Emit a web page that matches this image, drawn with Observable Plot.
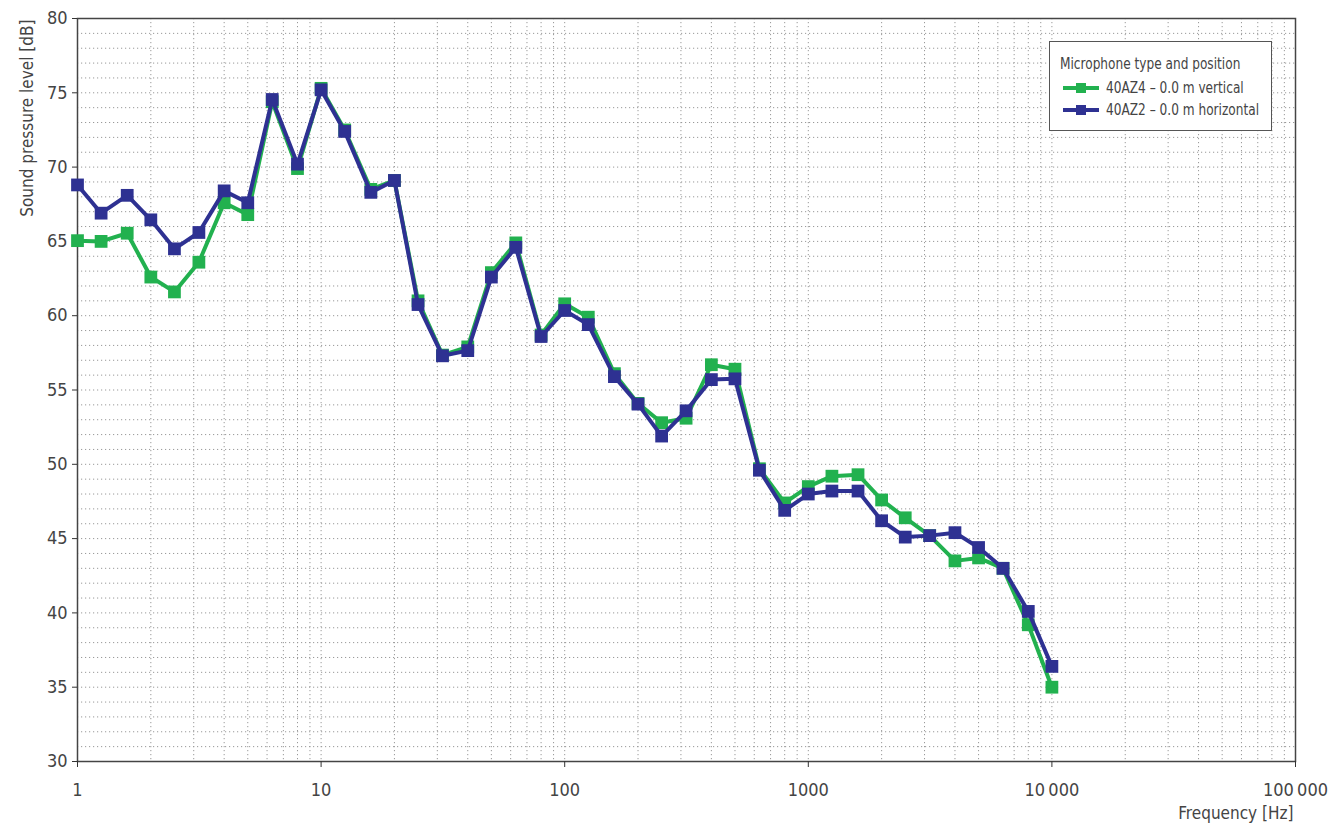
<!DOCTYPE html>
<html>
<head>
<meta charset="utf-8">
<script src="https://cdn.jsdelivr.net/npm/d3@7"></script>
<script src="https://cdn.jsdelivr.net/npm/@observablehq/plot@0.6"></script>
<style>
  html, body { margin: 0; padding: 0; background: #fff; }
  #wrap { position: relative; width: 1338px; height: 826px; }
  #legend {
    position: absolute; left: 1049px; top: 41px; width: 221px; height: 88px;
    border: 1.5px solid #555; background: #fff; box-sizing: content-box;
    font-family: "DejaVu Sans Condensed", sans-serif;
    font-size: 15px; color: #444; white-space: nowrap;
  }
  #legend .title { position: absolute; left: 10px; top: 13px; transform: scaleX(0.9); transform-origin: left center; }
  #legend .row { position: absolute; left: 12px; height: 20px; display: flex; align-items: center; }
  #legend .row span { display: inline-block; transform: scaleX(0.9); transform-origin: left center; }
  #legend svg { margin-right: 6px; }
</style>
</head>
<body>
<div id="wrap"></div>
<script>
const frequencies = [1, 1.25, 1.6, 2, 2.5, 3.15, 4, 5, 6.3, 8, 10, 12.5, 16, 20, 25, 31.5, 40, 50, 63, 80, 100, 125, 160, 200, 250, 315, 400, 500, 630, 800, 1000, 1250, 1600, 2000, 2500, 3150, 4000, 5000, 6300, 8000, 10000];
const vertical40AZ4 = [65.05, 65.0, 65.55, 62.6, 61.6, 63.6, 67.6, 66.8, 74.4, 69.9, 75.3, 72.5, 68.5, 69.1, 61.0, 57.35, 57.9, 62.9, 64.9, 58.7, 60.8, 59.9, 56.1, 54.1, 52.8, 53.1, 56.7, 56.4, 49.7, 47.4, 48.5, 49.2, 49.3, 47.6, 46.4, 45.2, 43.5, 43.7, 43.0, 39.2, 35.0];
const horizontal40AZ2 = [68.8, 66.9, 68.1, 66.45, 64.5, 65.6, 68.4, 67.6, 74.55, 70.2, 75.2, 72.4, 68.3, 69.1, 60.75, 57.3, 57.65, 62.6, 64.6, 58.6, 60.35, 59.4, 55.9, 54.05, 51.9, 53.6, 55.7, 55.75, 49.6, 46.9, 48.0, 48.2, 48.2, 46.2, 45.1, 45.2, 45.4, 44.4, 43.0, 40.1, 36.4];
const seriesNames = ["40AZ4 – 0.0 m vertical", "40AZ2 – 0.0 m horizontal"];
const seriesColors = ["#22b14f", "#2e3192"];
const xTicks = [1, 10, 100, 1000, 10000, 100000];
const yTicks = [30, 35, 40, 45, 50, 55, 60, 65, 70, 75, 80];

const fmtX = d => d >= 10000 ? d3.format(",")(d).replace(/,/g, "\u2009") : String(d);
const green = frequencies.map((f, i) => ({f, v: vertical40AZ4[i]}));
const blue = frequencies.map((f, i) => ({f, v: horizontal40AZ2[i]}));
const gridXVals = d3.scaleLog().domain([1, 100000]).ticks();
const gridYVals = d3.range(30, 81);
const font = `"DejaVu Sans Condensed", sans-serif`;

const chart = Plot.plot({
  width: 1338, height: 826,
  marginLeft: 77, marginRight: 43, marginTop: 18, marginBottom: 65,
  style: {fontFamily: font, fontSize: "17px", color: "#444", background: "#fff"},
  x: {type: "log", domain: [1, 100000]},
  y: {domain: [30, 80]},
  marks: [
    Plot.gridX(gridXVals, {stroke: "#999", strokeOpacity: 1, strokeDasharray: "1.2,2.8"}),
    Plot.gridY(gridYVals, {stroke: "#999", strokeOpacity: 1, strokeDasharray: "1.2,2.8"}),
    Plot.frame({stroke: "#444", strokeWidth: 1.5}),
    Plot.axisX(xTicks, {tickFormat: fmtX, tickSize: 6, tickPadding: 16, stroke: "#333", fill: "#444", fontSize: 18, label: null}),
    Plot.axisY(yTicks, {tickSize: 5, tickPadding: 5, stroke: "#333", fill: "#444", fontSize: 18, label: null}),
    Plot.text(["Sound pressure level [dB]"], {frameAnchor: "top-left", dx: -57, dy: 1, rotate: -90, textAnchor: "end", fill: "#444", fontSize: 17}),
    Plot.text(["Frequency [Hz]"], {frameAnchor: "bottom-right", dx: -2, dy: 57, textAnchor: "end", fill: "#444", fontSize: 17}),
    Plot.line(green, {x: "f", y: "v", stroke: seriesColors[0], strokeWidth: 4}),
    Plot.dot(green, {x: "f", y: "v", symbol: "square", r: 7.2, fill: seriesColors[0], stroke: "none"}),
    Plot.line(blue, {x: "f", y: "v", stroke: seriesColors[1], strokeWidth: 4}),
    Plot.dot(blue, {x: "f", y: "v", symbol: "square", r: 7.2, fill: seriesColors[1], stroke: "none"})
  ]
});

const wrap = document.getElementById("wrap");
wrap.appendChild(chart);

const legend = document.createElement("div");
legend.id = "legend";
let html = `<div class="title">Microphone type and position</div>`;
seriesNames.forEach((name, i) => {
  html += `<div class="row" style="top:${36 + i * 22}px"><svg width="38" height="12"><line x1="1" y1="6" x2="37" y2="6" stroke="${seriesColors[i]}" stroke-width="4"/><rect x="14" y="1" width="10" height="10" fill="${seriesColors[i]}"/></svg><span>${name}</span></div>`;
});
legend.innerHTML = html;
wrap.appendChild(legend);
</script>
</body>
</html>
